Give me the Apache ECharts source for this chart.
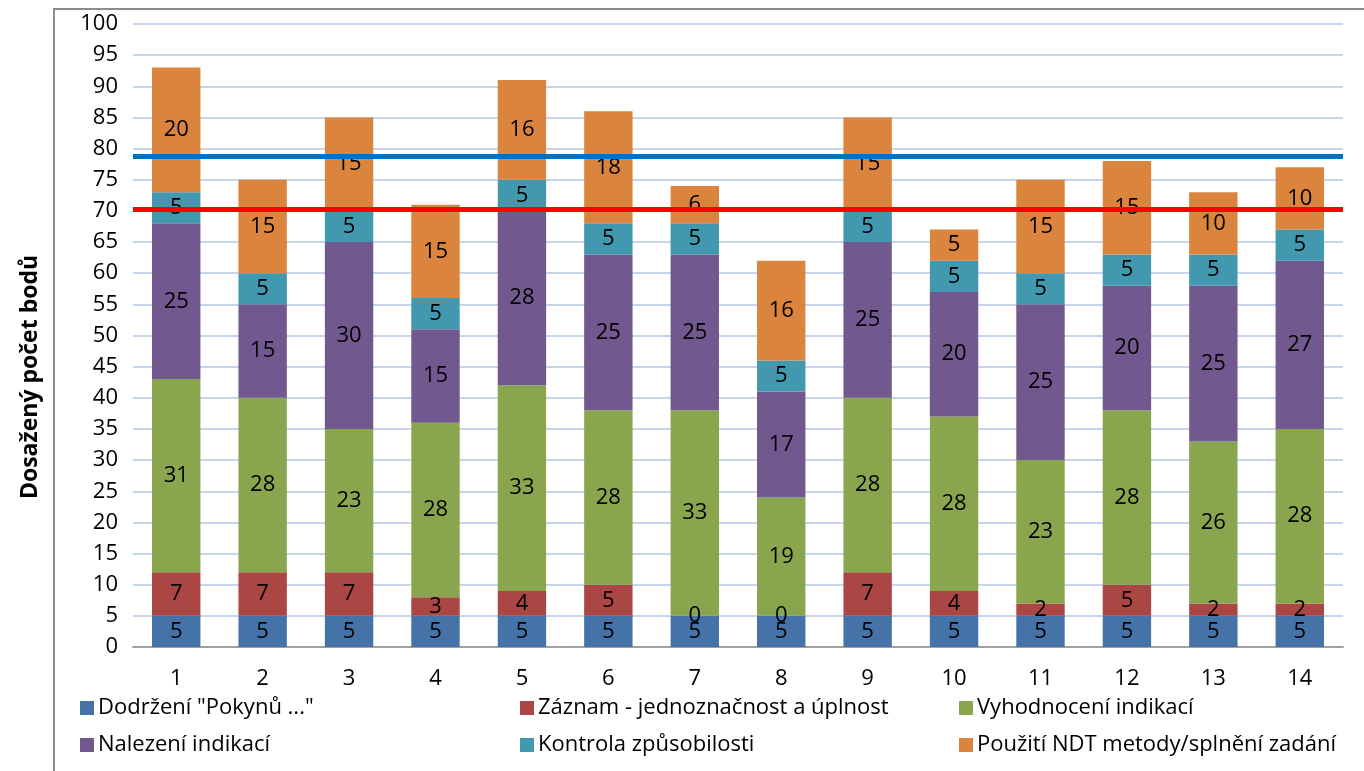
<!DOCTYPE html>
<html><head><meta charset="utf-8">
<script src="https://cdn.jsdelivr.net/npm/echarts@6/dist/echarts.min.js"></script>
<style>html,body{margin:0;padding:0;background:#fff}#c{width:1364px;height:771px}</style>
</head><body><div id="c"></div>
<script>
const categories = ['1','2','3','4','5','6','7','8','9','10','11','12','13','14'];
const seriesNames = ['Dodržení "Pokynů ..."','Záznam - jednoznačnost a úplnost','Vyhodnocení indikací','Nalezení indikací','Kontrola způsobilosti','Použití NDT metody/splnění zadání'];
const dodrzeni   = [5,5,5,5,5,5,5,5,5,5,5,5,5,5];
const zaznam     = [7,7,7,3,4,5,0,0,7,4,2,5,2,2];
const vyhodnoceni= [31,28,23,28,33,28,33,19,28,28,23,28,26,28];
const nalezeni   = [25,15,30,15,28,25,25,17,25,20,25,20,25,27];
const kontrola   = [5,5,5,5,5,5,5,5,5,5,5,5,5,5];
const pouziti    = [20,15,15,15,16,18,6,16,15,5,15,15,10,10];
const blueLineValue = 78.7;
const redLineValue = 70.3;
const yTicks = {min:0,max:100,interval:5};

const colors = ['#4572a7','#aa4643','#89a54e','#71588f','#4198af','#db843d'];
const dataSets = [dodrzeni,zaznam,vyhodnoceni,nalezeni,kontrola,pouziti];
const FONT = 'Open Sans';

const series = dataSets.map((d,i)=>({
  name: seriesNames[i], type:'bar', stack:'total', data:d,
  barCategoryGap:'44%',
  itemStyle:{color:colors[i]},
  label:{show:true, position:'inside', color:'#000', fontSize:22, fontFamily:FONT},
  emphasis:{disabled:true}
}));
series[5].markLine = {
  silent:true, symbol:'none', animation:false,
  label:{show:false},
  data:[
    {yAxis:blueLineValue, lineStyle:{color:'#0070c0', width:5, type:'solid'}},
    {yAxis:redLineValue, lineStyle:{color:'#ff0000', width:5, type:'solid'}}
  ]
};

const legendPos = [[80,697],[520,697],[959,697],[80,734],[520,734],[959,734]];
const legends = seriesNames.map((n,i)=>({
  data:[n], left:legendPos[i][0], top:legendPos[i][1], icon:'rect',
  itemWidth:14, itemHeight:14, itemGap:0, padding:0,
  textStyle:{fontSize:22, fontFamily:FONT, color:'#000', padding:[0,0,0,-1]},
  selectedMode:false
}));

const chart = echarts.init(document.getElementById('c'));
chart.setOption({
  animation:false,
  color:colors,
  grid:{left:133, right:21, top:24, bottom:124, containLabel:false},
  legend:legends,
  xAxis:{type:'category', data:categories,
    axisLine:{lineStyle:{color:'#a0a0a0', width:2}},
    axisTick:{show:false},
    axisLabel:{color:'#000', fontSize:22, fontFamily:FONT, margin:21}},
  yAxis:{type:'value', min:yTicks.min, max:yTicks.max, interval:yTicks.interval,
    axisLine:{show:false}, axisTick:{show:false},
    axisLabel:{color:'#000', fontSize:22, fontFamily:FONT, margin:15},
    splitLine:{lineStyle:{color:'#c6d4ec', width:2}}},
  graphic:[
    {type:'rect', shape:{x:54,y:9,width:1400,height:900}, style:{fill:'none', stroke:'#8c8c8c', lineWidth:2}, silent:true},
    {type:'text', x:30, y:377, rotation:Math.PI/2, style:{text:'Dosažený počet bodů', font:'bold 23px "Open Sans"', fill:'#000', align:'center', verticalAlign:'middle'}}
  ],
  series:series
});
</script></body></html>
